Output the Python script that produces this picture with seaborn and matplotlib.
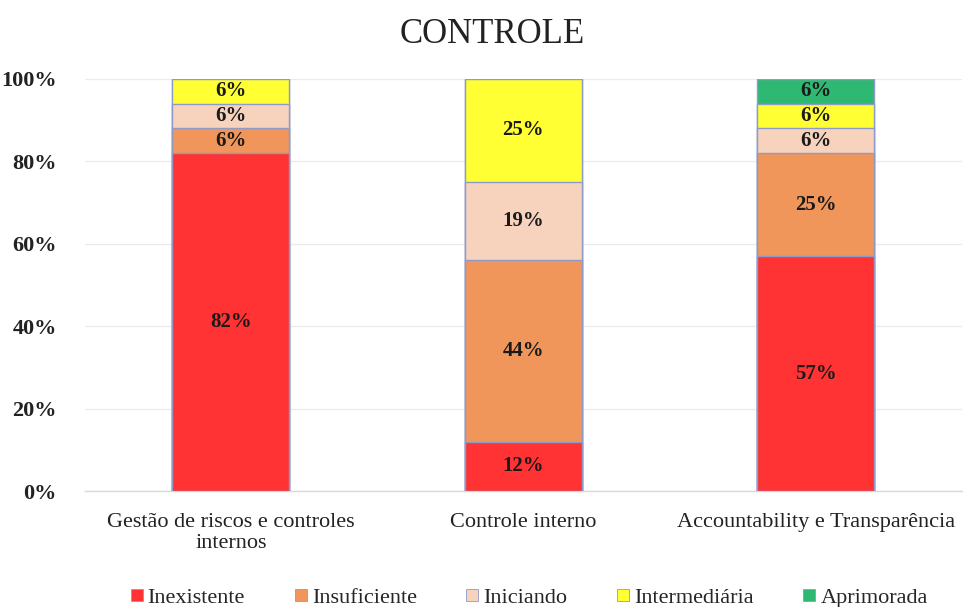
import matplotlib
matplotlib.use("Agg")
import matplotlib.pyplot as plt
from matplotlib.lines import Line2D
import numpy as np
import pandas as pd
import seaborn as sns

# Data
categories = ["Gestão de riscos e controles\ninternos", "Controle interno", "Accountability e Transparência"]
levels = ["Inexistente", "Insuficiente", "Iniciando", "Intermediária", "Aprimorada"]
inexistente = [82, 12, 57]
insuficiente = [6, 44, 25]
iniciando = [6, 19, 6]
intermediaria = [6, 25, 6]
aprimorada = [0, 0, 6]
colors = ["#FF3333", "#F0965A", "#F7D3BE", "#FFFF33", "#2EB872"]

series = [inexistente, insuficiente, iniciando, intermediaria, aprimorada]
values = np.array(series, dtype=float)
cumulative = np.cumsum(values, axis=0)

rows = []
for li, lev in enumerate(levels):
    for ci, cat in enumerate(categories):
        rows.append({"categoria": cat, "nivel": lev, "valor": values[li, ci],
                     "topo": cumulative[li, ci] / 100.0})
df = pd.DataFrame(rows)

sns.set_theme(style="white")
plt.rcParams["font.family"] = ["Liberation Serif", "DejaVu Serif"]

fig = plt.figure(figsize=(9.63, 6.07), dpi=100)
ax = fig.add_axes([0.088, 0.191, 0.911, 0.679])

# stacked bars: draw cumulative totals from the top level down
for li in range(len(levels) - 1, -1, -1):
    sub = df[df["nivel"] == levels[li]]
    sns.barplot(data=sub, x="categoria", y="topo", order=categories, color=colors[li],
                width=0.4, edgecolor="#8E9AC8", linewidth=1.0, saturation=1, ax=ax, zorder=3)

# value labels
for li, lev in enumerate(levels):
    for ci in range(len(categories)):
        v = values[li, ci]
        if v <= 0:
            continue
        y = (cumulative[li, ci] - v / 2) / 100.0
        ax.text(ci, y, f"{int(v)}%", ha="center", va="center", fontsize=15,
                fontweight="bold", color="#1a1a1a", zorder=5)

ax.set_ylim(0, 1.0)
ax.set_xlim(-0.5, 2.5)
ax.set_yticks(np.arange(0, 1.01, 0.2))
ax.set_yticklabels([f"{int(t*100)}%" for t in np.arange(0, 1.01, 0.2)],
                   fontsize=16, fontweight="bold", color="#222222")
ax.set_xticks(range(len(categories)))
ax.set_xticklabels(categories, fontsize=16, color="#222222", linespacing=1.1)
ax.tick_params(axis="y", length=0, pad=20)
ax.tick_params(axis="x", length=0, pad=16)
ax.set_xlabel("")
ax.set_ylabel("")
ax.yaxis.grid(True, color="#EBEBEB", linewidth=1.0, zorder=0)
ax.set_axisbelow(True)
for side in ["top", "right", "left"]:
    ax.spines[side].set_visible(False)
ax.spines["bottom"].set_color("#D9D9D9")
ax.spines["bottom"].set_linewidth(1.0)

fig.text(0.511, 0.943, "CONTROLE", ha="center", va="center", fontsize=25, color="#222222")

handles = [Line2D([0], [0], marker="s", linestyle="none", markersize=9,
                  markerfacecolor=c, markeredgecolor="#8E9AC8", markeredgewidth=0.6)
           for c in colors]
fig.legend(handles, levels, loc="center", bbox_to_anchor=(0.548, 0.015), ncol=5,
           frameon=False, fontsize=16, handletextpad=0.1, columnspacing=2.1,
           handlelength=0.8)

fig.savefig("out.png", dpi=100)
